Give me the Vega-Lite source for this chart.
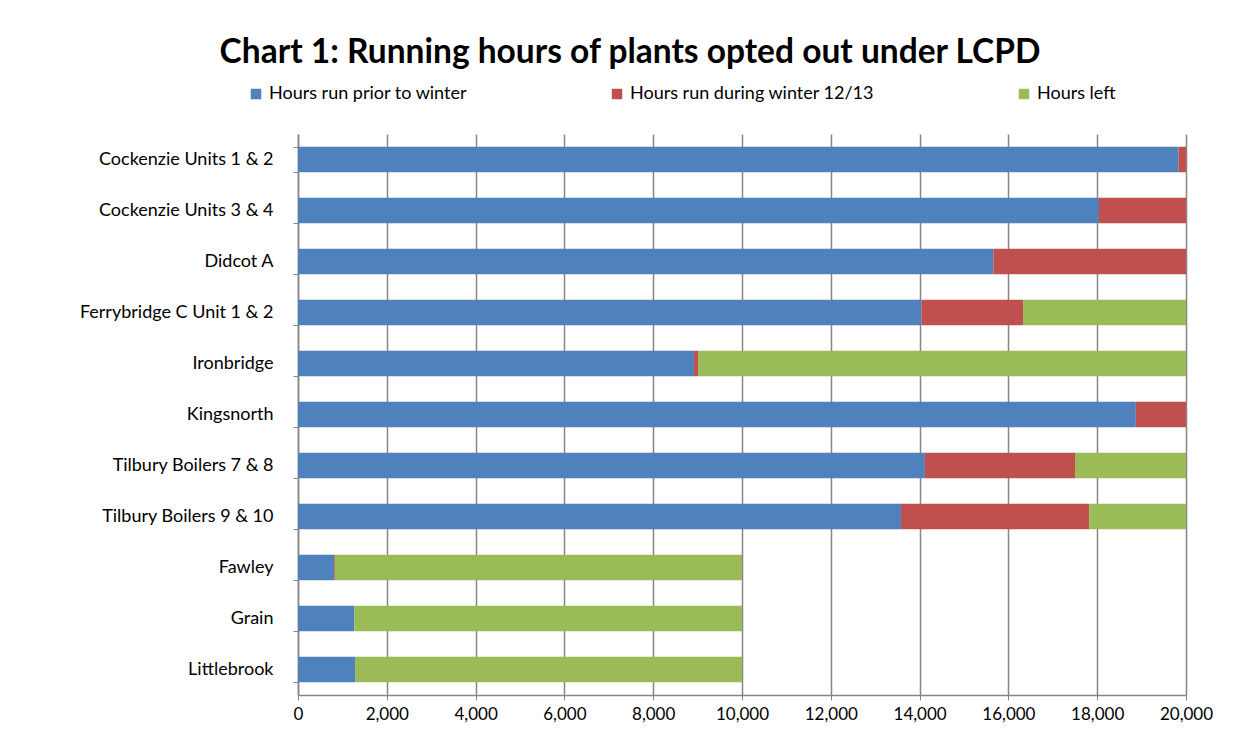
{
  "$schema": "https://vega.github.io/schema/vega-lite/v6.json",
  "width": 888,
  "height": 561,
  "autosize": {"type": "none"},
  "padding": {"left": 298, "top": 134, "right": 54, "bottom": 54},
  "background": "white",
  "title": {
    "text": "Chart 1: Running hours of plants opted out under LCPD",
    "font": "Lato",
    "fontSize": 33.5,
    "fontWeight": "bold",
    "color": "#000000",
    "anchor": "middle",
    "dx": -112,
    "offset": 15
  },
  "data": {
    "values": [
      {"plant": "Cockenzie Units 1 & 2", "series": "Hours run prior to winter", "k": 1, "hours": 19830},
      {"plant": "Cockenzie Units 1 & 2", "series": "Hours run during winter 12/13", "k": 2, "hours": 170},
      {"plant": "Cockenzie Units 1 & 2", "series": "Hours left", "k": 3, "hours": 0},
      {"plant": "Cockenzie Units 3 & 4", "series": "Hours run prior to winter", "k": 1, "hours": 18040},
      {"plant": "Cockenzie Units 3 & 4", "series": "Hours run during winter 12/13", "k": 2, "hours": 1960},
      {"plant": "Cockenzie Units 3 & 4", "series": "Hours left", "k": 3, "hours": 0},
      {"plant": "Didcot A", "series": "Hours run prior to winter", "k": 1, "hours": 15660},
      {"plant": "Didcot A", "series": "Hours run during winter 12/13", "k": 2, "hours": 4340},
      {"plant": "Didcot A", "series": "Hours left", "k": 3, "hours": 0},
      {"plant": "Ferrybridge C Unit 1 & 2", "series": "Hours run prior to winter", "k": 1, "hours": 14040},
      {"plant": "Ferrybridge C Unit 1 & 2", "series": "Hours run during winter 12/13", "k": 2, "hours": 2290},
      {"plant": "Ferrybridge C Unit 1 & 2", "series": "Hours left", "k": 3, "hours": 3670},
      {"plant": "Ironbridge", "series": "Hours run prior to winter", "k": 1, "hours": 8920},
      {"plant": "Ironbridge", "series": "Hours run during winter 12/13", "k": 2, "hours": 90},
      {"plant": "Ironbridge", "series": "Hours left", "k": 3, "hours": 10990},
      {"plant": "Kingsnorth", "series": "Hours run prior to winter", "k": 1, "hours": 18870},
      {"plant": "Kingsnorth", "series": "Hours run during winter 12/13", "k": 2, "hours": 1130},
      {"plant": "Kingsnorth", "series": "Hours left", "k": 3, "hours": 0},
      {"plant": "Tilbury Boilers 7 & 8", "series": "Hours run prior to winter", "k": 1, "hours": 14120},
      {"plant": "Tilbury Boilers 7 & 8", "series": "Hours run during winter 12/13", "k": 2, "hours": 3380},
      {"plant": "Tilbury Boilers 7 & 8", "series": "Hours left", "k": 3, "hours": 2500},
      {"plant": "Tilbury Boilers 9 & 10", "series": "Hours run prior to winter", "k": 1, "hours": 13580},
      {"plant": "Tilbury Boilers 9 & 10", "series": "Hours run during winter 12/13", "k": 2, "hours": 4240},
      {"plant": "Tilbury Boilers 9 & 10", "series": "Hours left", "k": 3, "hours": 2180},
      {"plant": "Fawley", "series": "Hours run prior to winter", "k": 1, "hours": 810},
      {"plant": "Fawley", "series": "Hours run during winter 12/13", "k": 2, "hours": 20},
      {"plant": "Fawley", "series": "Hours left", "k": 3, "hours": 9170},
      {"plant": "Grain", "series": "Hours run prior to winter", "k": 1, "hours": 1270},
      {"plant": "Grain", "series": "Hours run during winter 12/13", "k": 2, "hours": 0},
      {"plant": "Grain", "series": "Hours left", "k": 3, "hours": 8730},
      {"plant": "Littlebrook", "series": "Hours run prior to winter", "k": 1, "hours": 1285},
      {"plant": "Littlebrook", "series": "Hours run during winter 12/13", "k": 2, "hours": 0},
      {"plant": "Littlebrook", "series": "Hours left", "k": 3, "hours": 8715}
    ]
  },
  "mark": {"type": "bar"},
  "encoding": {
    "y": {
      "field": "plant",
      "type": "nominal",
      "sort": ["Cockenzie Units 1 & 2", "Cockenzie Units 3 & 4", "Didcot A", "Ferrybridge C Unit 1 & 2", "Ironbridge", "Kingsnorth", "Tilbury Boilers 7 & 8", "Tilbury Boilers 9 & 10", "Fawley", "Grain", "Littlebrook"],
      "scale": {"paddingInner": 0.5, "paddingOuter": 0.25},
      "axis": {
        "title": null,
        "labelFont": "Lato",
        "labelFontSize": 18,
        "labelColor": "#000000",
        "labelPadding": 20,
        "labelLimit": 300,
        "tickBand": "extent",
        "tickColor": "#868686",
        "tickSize": 5,
        "domainColor": "#868686",
        "domainWidth": 1.5,
        "grid": false
      }
    },
    "x": {
      "field": "hours",
      "type": "quantitative",
      "stack": "zero",
      "scale": {"domain": [0, 20000], "nice": false},
      "axis": {
        "title": null,
        "values": [0, 2000, 4000, 6000, 8000, 10000, 12000, 14000, 16000, 18000, 20000],
        "format": ",.0f",
        "labelFont": "Lato",
        "labelFontSize": 17,
        "labelColor": "#000000",
        "labelPadding": 6,
        "labelFlush": false,
        "labelOverlap": false,
        "tickColor": "#868686",
        "tickSize": 5,
        "domainColor": "#868686",
        "domainWidth": 1.5,
        "grid": true,
        "gridColor": "#868686",
        "gridWidth": 1.5
      }
    },
    "color": {
      "field": "series",
      "type": "nominal",
      "scale": {
        "domain": ["Hours run prior to winter", "Hours run during winter 12/13", "Hours left"],
        "range": ["#4F81BD", "#C0504D", "#9BBB59"]
      },
      "legend": {
        "title": null,
        "orient": "none",
        "direction": "horizontal",
        "legendX": -51,
        "legendY": -49,
        "symbolType": "square",
        "symbolSize": 110,
        "symbolStrokeWidth": 0,
        "labelFont": "Lato",
        "labelFontSize": 18,
        "labelColor": "#000000",
        "labelOffset": 4,
        "columnPadding": 140,
        "labelLimit": 400
      }
    },
    "order": {"field": "k", "type": "quantitative"}
  },
  "config": {
    "view": {"stroke": null}
  }
}
